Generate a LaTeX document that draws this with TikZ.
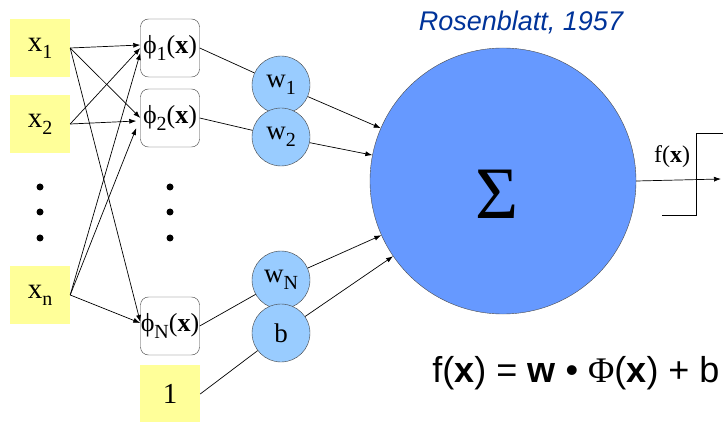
\documentclass[tikz,border=0pt]{standalone}
\usepackage{fontspec}
\setmainfont{Liberation Serif}
\setsansfont{Liberation Sans}
\usepackage{xcolor}
\usetikzlibrary{arrows.meta,calc}

\definecolor{inyellow}{HTML}{FFFF99}
\definecolor{wblue}{HTML}{99CCFF}
\definecolor{sumblue}{HTML}{6699FF}
\definecolor{citeblue}{HTML}{003399}

\newcommand\lowsub[1]{\raisebox{-7pt}{\fontsize{20}{20}\selectfont #1}}

\begin{document}
\begin{tikzpicture}[x=1pt, y=-1pt,
    inbox/.style={fill=inyellow, minimum width=60pt, minimum height=58pt, inner sep=0pt, font=\fontsize{29}{29}\selectfont},
    phibox/.style={draw=black!75, rounded corners=8pt, fill=white, minimum width=59pt, minimum height=58pt, inner sep=0pt, font=\fontsize{26}{26}\selectfont},
    wnode/.style={circle, draw=black!75, fill=wblue, minimum size=58pt, inner sep=0pt, font=\fontsize{27}{27}\selectfont},
    wire/.style={black, line width=0.7pt},
    arr/.style={wire, -{Latex[length=7pt,width=5pt]}}]
        \useasboundingbox (0,0) rectangle (723,422);
        % inputs
        \node[inbox] (x1) at (40,48) {x\lowsub{1}};
        \node[inbox] (x2) at (40,124) {x\lowsub{2}};
        \node[inbox] (xn) at (40,295) {x\lowsub{n}};
        \node[inbox] (one) at (170,394) {1};
        % features
        \node[phibox] (phi1) at (170,48) {ϕ\lowsub{1}(\textbf{x})};
        \node[phibox] (phi2) at (170,118) {ϕ\lowsub{2}(\textbf{x})};
        \node[phibox] (phiN) at (170,326) {ϕ\lowsub{N}(\textbf{x})};
        \foreach \yy in {187,212,238} {
            \fill (40,\yy) circle (3.5);
            \fill (170,\yy) circle (3.5);
        }
        \draw[arr] (x1.east) -- ($(phi1.west)+(0,-3)$);
        \draw[arr] (x1.east) -- ($(phi2.west)+(0,0)$);
        \draw[arr] (x1.east) -- ($(phiN.west)+(0,-4)$);
        \draw[arr] (x2.east) -- ($(phi1.west)+(0,0)$);
        \draw[arr] (x2.east) -- ($(phi2.west)+(-4,3)$);
        \draw[arr] (xn.east) -- ($(phi1.west)+(0,5)$);
        \draw[arr] (xn.east) -- ($(phi2.west)+(-4,10)$);
        \draw[arr] (xn.east) -- ($(phiN.west)+(0,-3)$);
        % weights
        \node[wnode] (w1) at (281,85) {w\lowsub{1}};
        \node[wnode] (w2) at (281,137) {w\lowsub{2}};
        \node[wnode] (wN) at (281,280) {w\lowsub{N}};
        \node[wnode] (b) at (281,333) {b};
        \draw[wire] (phi1.east) -- (w1);
        \draw[wire] (phi2.east) -- (w2);
        \draw[wire] (phiN.east) -- (wN);
        \draw[wire] (one.east) -- (b);
        % sum
        \node[circle, draw=black!70, fill=sumblue, minimum size=266pt, inner sep=0pt] (sigma) at (503,181) {};
        \node[font=\fontsize{74}{74}\selectfont] (sigmalabel) at (497,194) {Σ};
        \draw[arr] (w1) -- (sigma);
        \draw[arr] (w2) -- (sigma);
        \draw[arr] (wN) -- (sigma);
        \draw[arr] (b) -- (sigma);
        % output
        \coordinate (out) at (721,179);
        \draw[arr] (sigma.east) -- (out);
        \draw[wire] (662,215) -- (696,215) -- (696,133) -- (723,133);
        \node[font=\fontsize{24}{24}\selectfont] (flabel) at (672,157) {f(\textbf{x})};
        \node[font=\sffamily\itshape\fontsize{27}{27}\selectfont, text=citeblue] (cite) at (521,22) {Rosenblatt, 1957};
        \node[font=\sffamily\fontsize{36}{36}\selectfont] (formula) at (576,373)
            {f(\textbf{x}) = \textbf{w} \textbullet{} {\rmfamily Φ}(\textbf{x}) + b};
    \end{tikzpicture}
\end{document}
